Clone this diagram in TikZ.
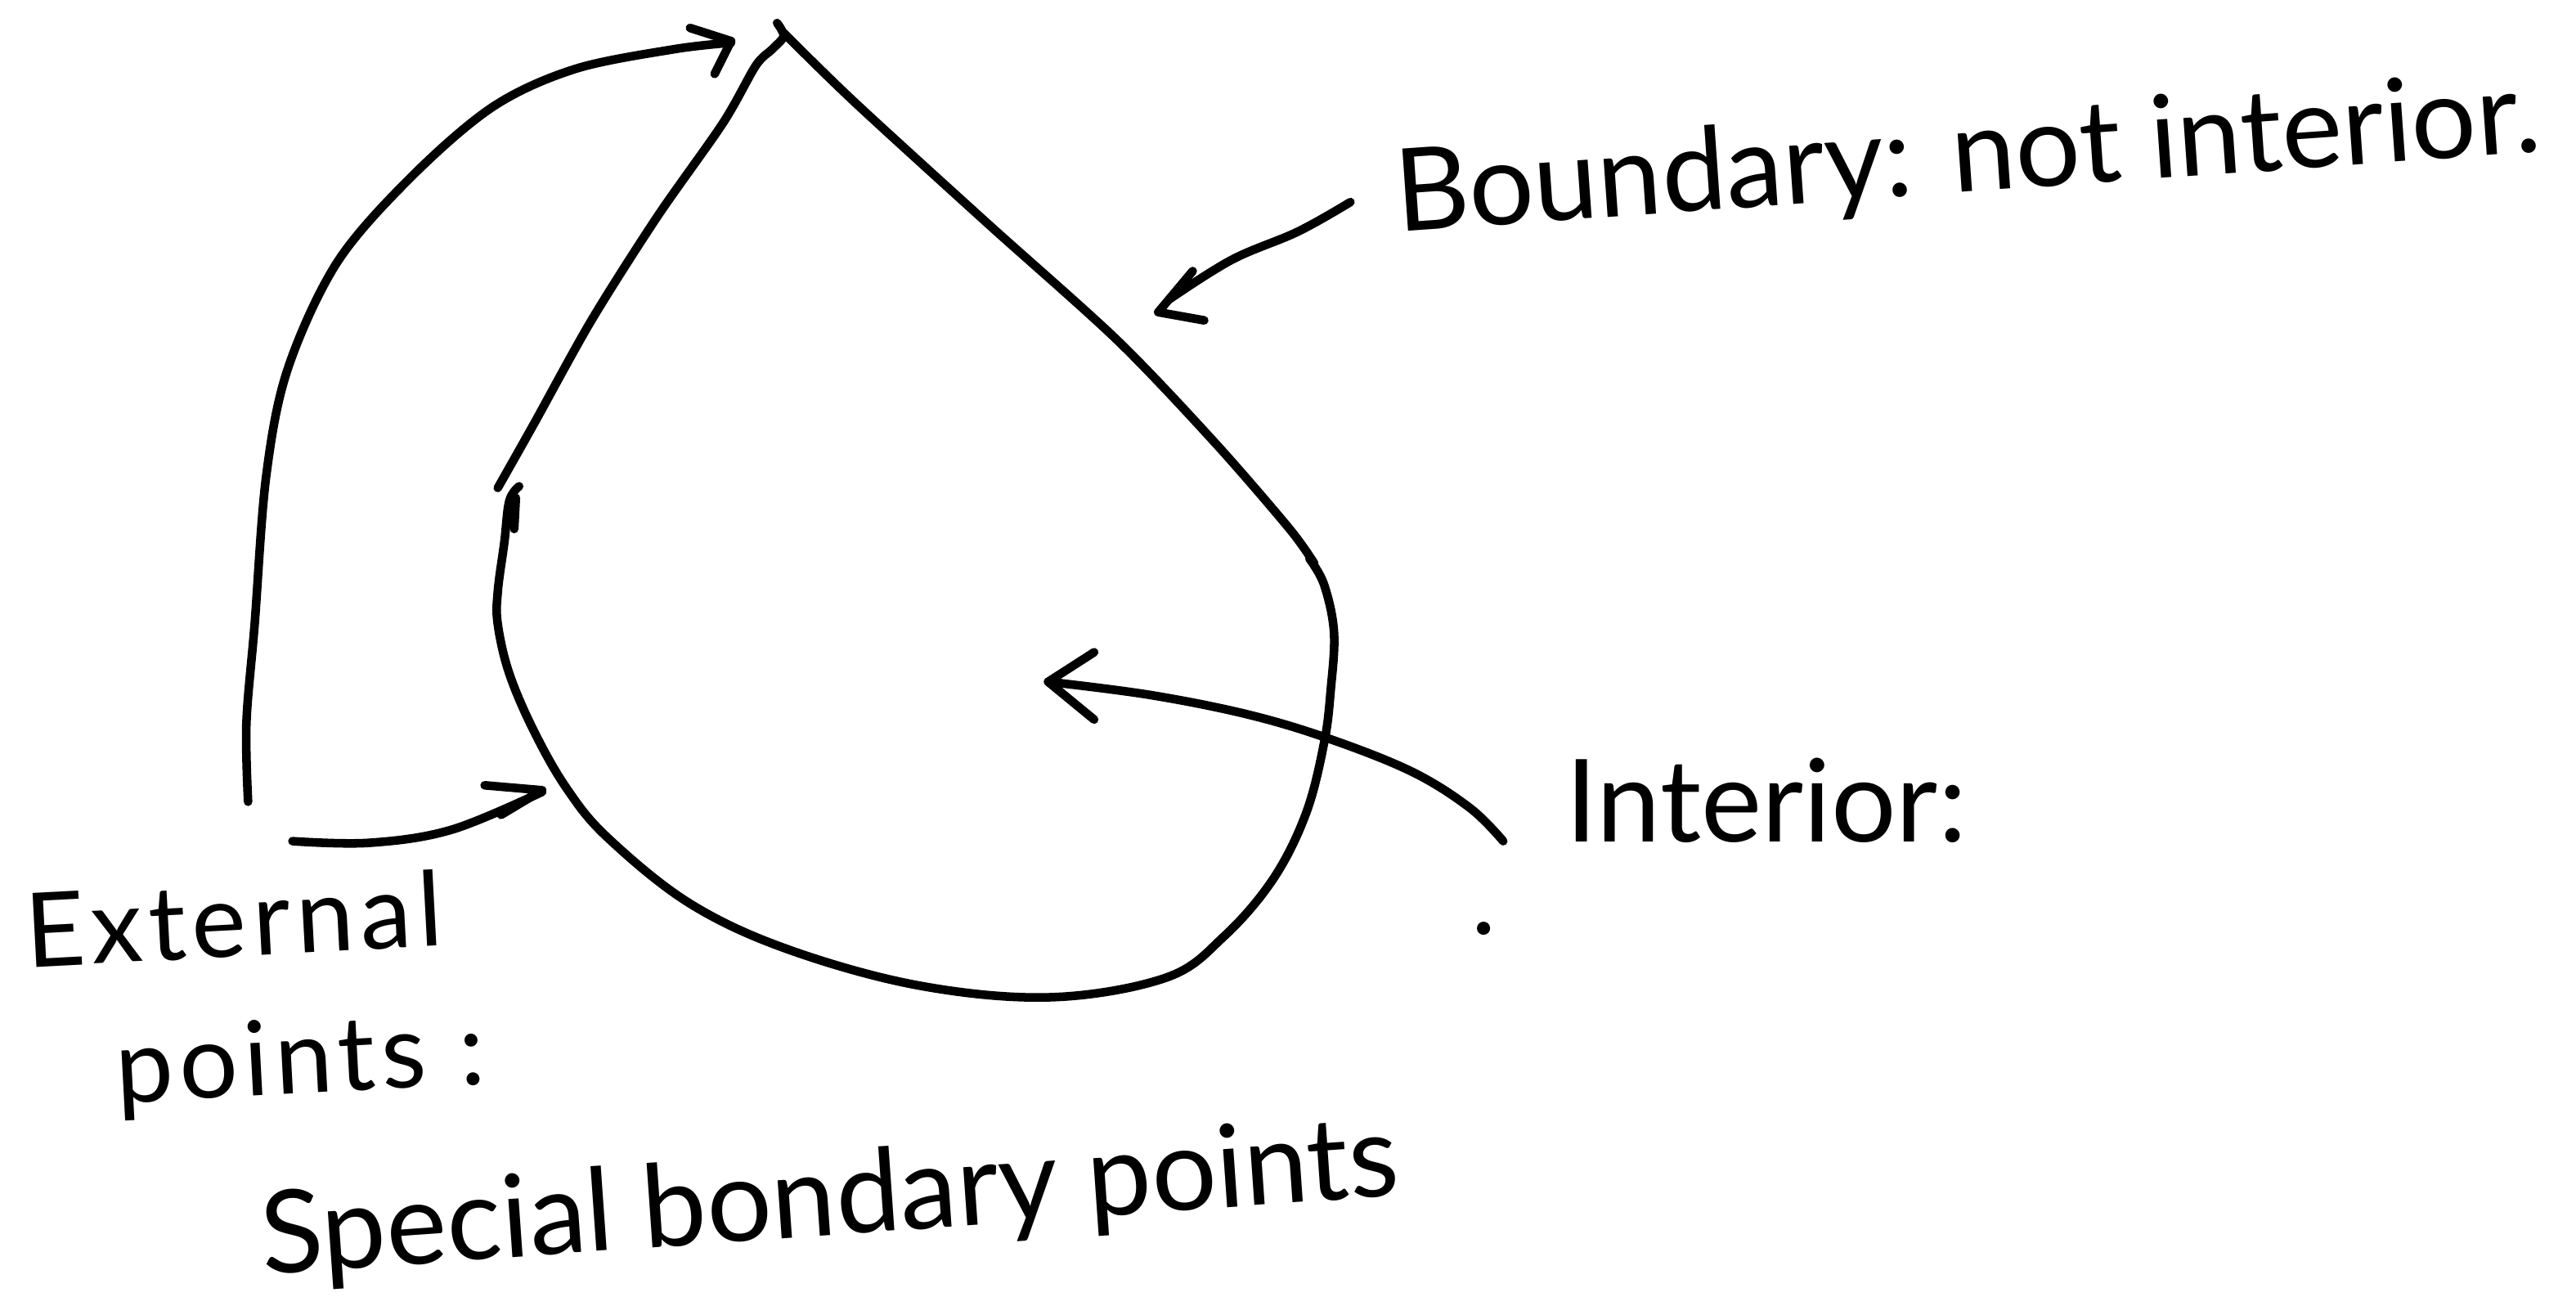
\documentclass[tikz,border=0pt]{standalone}
\usepackage{fontspec}
\setmainfont{Lato}
\newfontfamily\handwide[LetterSpace=6]{Lato}
\begin{document}
\begin{tikzpicture}[x=0.02009cm,y=-0.02009cm,
  ink/.style={line width=3pt,line cap=round,line join=round,black},
  hand/.style={font=\fontsize{40}{44}\selectfont,inner sep=0pt},
  handsm/.style={font=\handwide\fontsize{36}{40}\selectfont,inner sep=0pt}]
\useasboundingbox (0,0) rectangle (1568,789);
% teardrop shape
\draw[ink] plot[smooth,tension=0.5] coordinates {(477,20) (520,62) (600,135) (680,207) (740,270) (785,322) (800,343)};
\draw[ink] plot[smooth,tension=0.6] coordinates {(797,340) (806,356) (812,385) (810,420) (806,452) (795,495) (775,535) (745,570) (710,595) (640,607) (560,600) (480,578) (420,550) (370,510) (345,480) (325,445) (310,410) (303,380) (303,360) (307,330) (310,305) (316,296)};
\draw[ink] (314,303) -- (313,322);
\draw[ink] plot[smooth,tension=0.5] coordinates {(303,297) (325,258) (360,195) (400,132) (440,75) (460,40) (470,30) (477,22) (473,14)};
% labels
\node[hand,rotate=4] (bnd) at (1198,97) {Boundary: not interior.};
\node[hand] (int) at (1075,487) {Interior:};
\node[handsm,rotate=3,anchor=west] (ext) at (15,566) {External};
\node[handsm,rotate=3,anchor=west] (pts) at (70,654) {points :};
\node[hand,rotate=4] (spc) at (505,732) {Special bondary points};
% marker dot
\fill (903,565) circle (4);
% arrow: external points -> tip of shape
\coordinate (a1s) at (151,488);
\coordinate (a1e) at (445,26);
\draw[ink] plot[smooth,tension=0.55] coordinates {(a1s) (150,440) (155,380) (162,290) (175,225) (205,160) (250,108) (300,65) (350,42) (410,30) (a1e)};
\draw[ink] (420,17) -- (445,25) -- (435,45);
% arrow: external points -> lower left of shape
\coordinate (a2s) at (178,512);
\coordinate (a2e) at (330,482);
\draw[ink] plot[smooth,tension=0.6] coordinates {(a2s) (225,513) (275,505) (a2e)};
\draw[ink] (295,478) -- (330,481) -- (305,496);
% arrow: boundary label -> right edge
\coordinate (a3s) at (822,123);
\coordinate (a3e) at (707,190);
\draw[ink] plot[smooth,tension=0.6] coordinates {(a3s) (790,141) (750,158) (712,182)};
\draw[ink] (726,165) -- (705,190) -- (733,195);
% arrow: interior label -> inside
\coordinate (a4s) at (915,512);
\coordinate (a4e) at (638,415);
\draw[ink] plot[smooth,tension=0.6] coordinates {(a4s) (895,492) (860,470) (810,450) (760,435) (700,423) (a4e)};
\draw[ink] (666,397) -- (638,415) -- (666,438);
\end{tikzpicture}
\end{document}
